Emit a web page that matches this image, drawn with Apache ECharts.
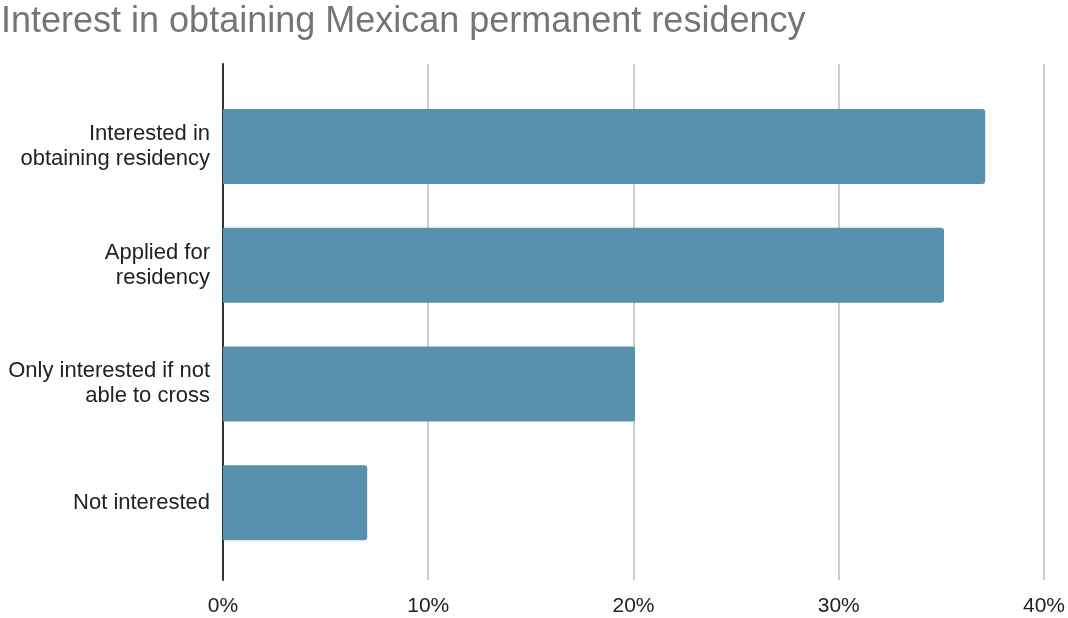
<!DOCTYPE html>
<html>
<head>
<meta charset="utf-8">
<script src="https://cdn.jsdelivr.net/npm/echarts@6/dist/echarts.min.js"></script>
<style>
  html, body { margin: 0; padding: 0; background: #ffffff; }
  #chart { width: 1068px; height: 618px; }
</style>
</head>
<body>
<div id="chart"></div>
<script>
// Survey responses
const categories = [
  'Interested in\nobtaining residency',
  'Applied for\nresidency',
  'Only interested if not\nable to cross',
  'Not interested'
];
const shares = [37, 35, 20, 7];
const xTicks = { min: 0, max: 40, interval: 10 };

const font = 'Liberation Sans, Arial, sans-serif';
const chart = echarts.init(document.getElementById('chart'), null, { renderer: 'canvas' });

chart.setOption({
  animation: false,
  backgroundColor: '#ffffff',
  title: {
    text: 'Interest in obtaining Mexican permanent residency',
    left: 1,
    top: 4,
    padding: 0,
    textStyle: { fontFamily: font, fontSize: 36, fontWeight: 'normal', color: '#757575' }
  },
  grid: [
    // frame: gridlines, axis line and percentage labels
    { left: 223, right: 21, top: 64, bottom: 38 },
    // bars and their category labels
    { left: 223, right: 21, top: 87, bottom: 56 }
  ],
  xAxis: [
    {
      gridIndex: 0, type: 'value', min: xTicks.min, max: xTicks.max, interval: xTicks.interval,
      axisLine: { show: false }, axisTick: { show: false },
      axisLabel: { formatter: '{value}%', fontFamily: font, fontSize: 21, color: '#222222', margin: 16 },
      splitLine: { show: true, lineStyle: { color: '#cccccc', width: 2 } }
    },
    {
      gridIndex: 1, type: 'value', min: xTicks.min, max: xTicks.max, interval: xTicks.interval,
      show: false
    }
  ],
  yAxis: [
    {
      gridIndex: 0, type: 'category', data: categories, inverse: true,
      axisLine: { show: true, lineStyle: { color: '#333333', width: 2 } },
      axisTick: { show: false }, axisLabel: { show: false }, splitLine: { show: false }
    },
    {
      gridIndex: 1, type: 'category', data: categories, inverse: true,
      axisLine: { show: false }, axisTick: { show: false }, splitLine: { show: false },
      axisLabel: { fontFamily: font, fontSize: 22, color: '#222222', margin: 13, lineHeight: 25, align: 'right' }
    }
  ],
  series: [
    {
      type: 'bar',
      xAxisIndex: 1, yAxisIndex: 1,
      data: shares,
      barWidth: 75,
      itemStyle: { color: '#5891ae', borderRadius: [0, 3, 3, 0] }
    }
  ]
});
</script>
</body>
</html>
